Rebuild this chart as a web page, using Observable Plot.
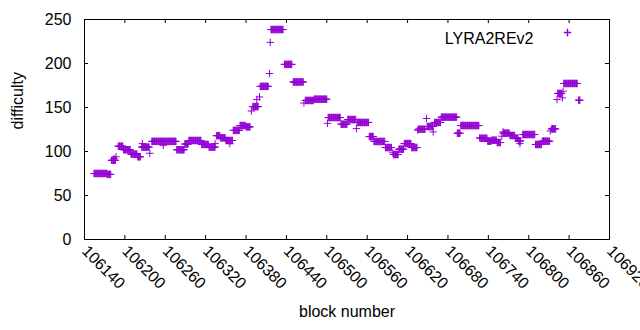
<!DOCTYPE html>
<html>
<head>
<meta charset="utf-8">
<script src="https://cdn.jsdelivr.net/npm/d3@7"></script>
<script src="https://cdn.jsdelivr.net/npm/@observablehq/plot@0.6"></script>
<style>
  html, body { margin: 0; padding: 0; background: #fff; }
</style>
</head>
<body>
<div id="chart"></div>
<script>
// Runs of consecutive blocks sharing the same difficulty (start block, end block, difficulty)
const runStart = [106154, 106174, 106180, 106190, 106198, 106209, 106219, 106225, 106240, 106277,
  106289, 106295, 106314, 106325, 106336, 106342, 106350, 106361, 106371, 106380,
  106390, 106401, 106417, 106437, 106450, 106468, 106481, 106502, 106521, 106531,
  106545, 106563, 106570, 106587, 106599, 106607, 106615, 106626, 106636, 106649,
  106660, 106670, 106694, 106699, 106728, 106739, 106745, 106753, 106762, 106772,
  106780, 106785, 106791, 106810, 106820, 106834, 106843, 106852, 106874];
const runEnd = [106173, 106179, 106186, 106197, 106208, 106218, 106223, 106236, 106276, 106288,
  106294, 106313, 106324, 106334, 106341, 106349, 106360, 106370, 106379, 106386,
  106398, 106413, 106435, 106448, 106465, 106480, 106500, 106520, 106530, 106543,
  106562, 106569, 106586, 106596, 106606, 106614, 106625, 106634, 106646, 106658,
  106669, 106693, 106698, 106726, 106738, 106744, 106752, 106758, 106771, 106779,
  106784, 106788, 106809, 106819, 106831, 106840, 106849, 106872, 106876];
const runValue = [75, 74, 90, 106, 102, 97, 94, 105, 111.5, 102,
  108.5, 112.5, 108, 105, 118, 115.5, 112.5, 124, 129.5, 128,
  151, 174, 238.6, 199, 179, 158, 159.4, 138.6, 131, 136.3,
  133, 117, 111.4, 104.5, 96.6, 102.6, 109, 104.5, 125.3, 128.4,
  133, 139, 120.8, 129.5, 115, 111.7, 112.8, 110.2, 120.8, 118.2,
  115, 112, 119.3, 108, 111.7, 125.7, 166, 177.3, 158.3];

// Isolated blocks
const singleBlock = [106184, 106187, 106226, 106237, 106257, 106334, 106356, 106388, 106396, 106400,
  106415, 106416, 106466, 106501, 106544, 106598, 106635, 106648, 106658, 106694,
  106727, 106760, 106762, 106787, 106832, 106835, 106842, 106850, 106851];
const singleValue = [92, 94, 109, 98, 107, 109, 109, 146, 159, 162,
  188.6, 224, 155, 132, 126, 98.5, 124.2, 137.5, 122.3, 120.4,
  115.5, 117.4, 122.3, 109, 123.4, 126, 159, 161, 168.5];

const seriesName = "LYRA2REv2";
const xTicks = [106140, 106200, 106260, 106320, 106380, 106440, 106500, 106560, 106620, 106680, 106740, 106800, 106860, 106920];
const yTicks = [0, 50, 100, 150, 200, 250];

const points = [];
runStart.forEach((s, i) => {
  for (let b = s; b <= runEnd[i]; b++) points.push({block: b, difficulty: runValue[i]});
});
singleBlock.forEach((b, i) => points.push({block: b, difficulty: singleValue[i]}));

// thin "+" marker like gnuplot's point type 1
const plusSymbol = {
  draw(context, size) {
    const r = Math.sqrt(size / Math.PI);
    context.moveTo(-r, 0); context.lineTo(r, 0);
    context.moveTo(0, -r); context.lineTo(0, r);
  }
};

const W = 640, H = 330, mL = 84, mR = 31, mT = 19, mB = 91;
const innerW = W - mL - mR, innerH = H - mT - mB;
const color = "#9400d3";
const fs = 16;

const chart = Plot.plot({
  width: W, height: H,
  marginLeft: mL, marginRight: mR, marginTop: mT, marginBottom: mB,
  style: {fontFamily: "'Liberation Sans', Arial, sans-serif", fontSize: fs + "px", color: "black", background: "white"},
  x: {domain: [106140, 106920]},
  y: {domain: [0, 250]},
  marks: [
    Plot.dot(points, {x: "block", y: "difficulty", symbol: plusSymbol, r: 3.7, stroke: color, fill: "none", strokeWidth: 1}),
    Plot.frame({stroke: "black", strokeWidth: 1}),
    Plot.tickY(yTicks, {y: d => d, insetRight: innerW - 4, stroke: "black"}),
    Plot.tickY(yTicks, {y: d => d, insetLeft: innerW - 4, stroke: "black"}),
    Plot.tickX(xTicks, {x: d => d, insetTop: innerH - 4, stroke: "black"}),
    Plot.tickX(xTicks, {x: d => d, insetBottom: innerH - 4, stroke: "black"}),
    Plot.axisY({ticks: yTicks, tickSize: 0, tickPadding: 13, label: null, fontSize: fs, tickFormat: d3.format("d")}),
    Plot.axisX({ticks: xTicks, tickSize: 0, tickRotate: 45, textAnchor: "start", tickPadding: 9, label: null, fontSize: fs, tickFormat: d3.format("d")}),
    Plot.text([seriesName], {text: d => d, frameAnchor: "top-right", dx: -76, dy: 13, textAnchor: "end", fontSize: fs}),
    Plot.dot([seriesName], {frameAnchor: "top-right", dx: -42, dy: 13, symbol: plusSymbol, r: 3.7, stroke: color, fill: "none"}),
    Plot.text(["difficulty"], {text: d => d, frameAnchor: "left", rotate: -90, dx: -67, fontSize: fs}),
    Plot.text(["block number"], {text: d => d, frameAnchor: "bottom", dy: 77, fontSize: fs})
  ]
});
document.getElementById("chart").appendChild(chart);
</script>
</body>
</html>
